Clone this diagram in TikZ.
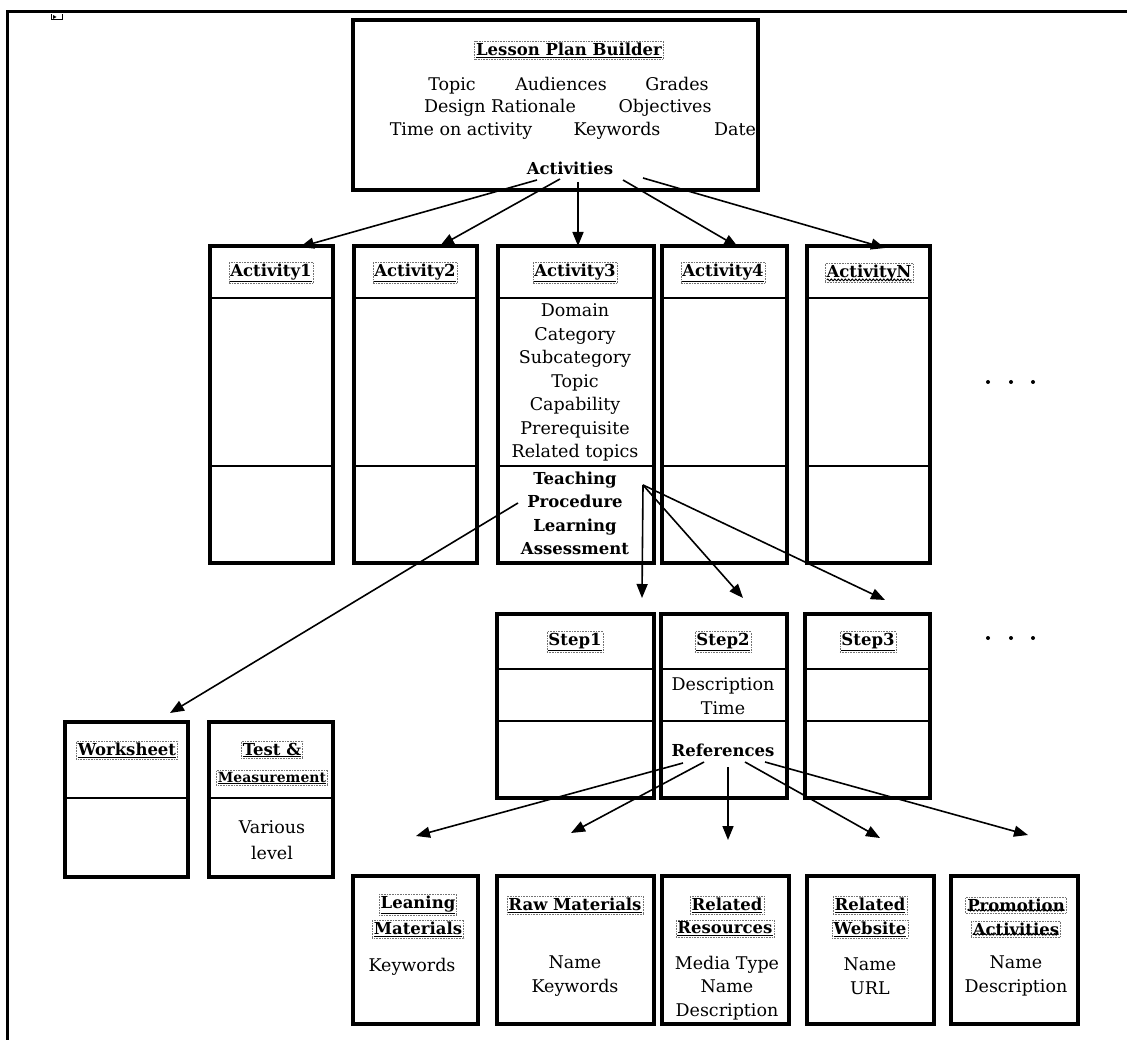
\documentclass[tikz,border=0pt]{standalone}
\usepackage{fontspec}
\setmainfont{DejaVu Serif}
\usetikzlibrary{arrows.meta,decorations.pathmorphing}
\begin{document}
\begin{tikzpicture}[x=1pt,y=-1pt,
  box/.style={draw, line width=3.4pt, inner sep=0pt, outer sep=0pt},
  div/.style={line width=2.2pt},
  arr/.style={-{Triangle[length=14pt,width=11pt]}, line width=1.6pt},
  txt/.style={inner sep=0pt, align=center, font=\fontsize{17.5}{23.5}\selectfont},
  bt/.style={txt, font=\fontsize{16.5}{23.5}\selectfont\bfseries},
  ttl/.style={bt, draw=black!55, densely dotted, line width=0.6pt, inner sep=1.5pt},
  wav/.style={decorate, decoration={snake, amplitude=0.9pt, segment length=3.5pt}, line width=0.9pt},
  bl/.style={txt, anchor=base},
]
\useasboundingbox (0,0) rectangle (1127,1040);
\fill[white] (0,0) rectangle (1127,1040);

% page frame
\draw[line width=3pt] (7,1040) -- (7,12) -- (1127,12);
\draw[line width=1pt] (51,14) -- (51,20) -- (62,20) -- (62,14);
\fill (53,15) -- (56.5,17) -- (53,19) -- cycle;

% ---------- top box ----------
\node[box, minimum width=405pt, minimum height=170pt] (lpb) at (555.5,105) {};
\node[ttl] (lpbt) at (569,50) {\underline{Lesson Plan Builder}};
\node[bl] (t1) at (452,91) {Topic};
\node[bl] (t2) at (561,91) {Audiences};
\node[bl] (t3) at (677,91) {Grades};
\node[bl] (t4) at (500,113) {Design Rationale};
\node[bl] (t5) at (665,113) {Objectives};
\node[bl] (t6) at (461,136) {Time on activity};
\node[bl] (t7) at (617,136) {Keywords};
\node[bl] (t8) at (735,136) {Date};
\node[bt] (acts) at (570,168) {Activities};

% ---------- activity boxes ----------
\node[box, minimum width=123pt, minimum height=317pt] (act1) at (271.5,404.5) {};
\node[box, minimum width=123pt, minimum height=317pt] (act2) at (415.5,404.5) {};
\node[box, minimum width=156pt, minimum height=317pt] (act3) at (576,404.5) {};
\node[box, minimum width=125pt, minimum height=317pt] (act4) at (724.5,404.5) {};
\node[box, minimum width=123pt, minimum height=317pt] (actn) at (868.5,404.5) {};
\foreach \b in {act1,act2,act3,act4,actn}{
  \draw[div] ([yshift=-52pt]\b.north west) -- ([yshift=-52pt]\b.north east);
  \draw[div] ([yshift=-220pt]\b.north west) -- ([yshift=-220pt]\b.north east);
}
\node[ttl] (a1t) at (271,273) {\underline{Activity1}};
\node[ttl] (a2t) at (415,273) {\underline{Activity2}};
\node[ttl] (a3t) at (575,273) {\underline{Activity3}};
\node[ttl] (a4t) at (723,273) {\underline{Activity4}};
\node[ttl] (ant) at (869,273) {ActivityN};
\draw[wav] ([xshift=2pt,yshift=3pt]ant.south west) -- ([xshift=-2pt,yshift=3pt]ant.south east);
\node[txt] (a3a) at (575,382.5) {Domain\\Category\\Subcategory\\Topic\\Capability\\Prerequisite\\Related topics};
\node[bt] (a3b) at (575,513.5) {Teaching\\Procedure\\Learning\\Assessment};
\foreach \xx in {988,1011,1033}{\fill (\xx,382) circle (2pt);}

% arrows from Activities
\coordinate (s1) at (537,180); \coordinate (e1) at (300,247);
\coordinate (s2) at (560,179); \coordinate (e2) at (440,246);
\coordinate (s3) at (578,182); \coordinate (e3) at (578,246);
\coordinate (s4) at (623,180); \coordinate (e4) at (738,247);
\coordinate (s5) at (643,178); \coordinate (e5) at (885,248);
\draw[arr] (s1) -- (e1);
\draw[arr] (s2) -- (e2);
\draw[arr] (s3) -- (e3);
\draw[arr] (s4) -- (e4);
\draw[arr] (s5) -- (e5);

% ---------- steps ----------
\node[box, minimum width=157pt, minimum height=184pt] (st1) at (575.5,706) {};
\node[box, minimum width=126pt, minimum height=184pt] (st2) at (724,706) {};
\node[box, minimum width=125pt, minimum height=184pt] (st3) at (867.5,706) {};
\foreach \b in {st1,st2,st3}{
  \draw[div] ([yshift=-55pt]\b.north west) -- ([yshift=-55pt]\b.north east);
  \draw[div] ([yshift=-107pt]\b.north west) -- ([yshift=-107pt]\b.north east);
}
\node[ttl] (s1t) at (575,642) {\underline{Step1}};
\node[ttl] (s2t) at (723,642) {\underline{Step2}};
\node[ttl] (s3t) at (868,642) {\underline{Step3}};
\node[txt] (s2a) at (723,696) {Description\\Time};
\node[bt] (refs) at (723,750) {References};
\foreach \xx in {988,1011,1033}{\fill (\xx,638) circle (2pt);}

\coordinate (tch) at (643,485);
\coordinate (f1) at (642,598);
\coordinate (f2) at (743,598);
\coordinate (f3) at (885,600);
\draw[arr] (tch) -- (f1);
\draw[arr] (tch) -- (f2);
\draw[arr] (tch) -- (f3);

% ---------- worksheet / test ----------
\node[box, minimum width=123pt, minimum height=155pt] (ws) at (126.5,799.5) {};
\node[box, minimum width=124pt, minimum height=155pt] (tm) at (271,799.5) {};
\foreach \b in {ws,tm}{
  \draw[div] ([yshift=-76pt]\b.north west) -- ([yshift=-76pt]\b.north east);
}
\node[ttl] (wst) at (127,750) {\underline{Worksheet}};
\node[ttl] (tmt1) at (272,750) {\underline{Test \&}};
\node[ttl, font=\fontsize{14}{16}\selectfont\bfseries] (tmt2) at (272,778) {\underline{Measurement}};
\node[txt, font=\fontsize{17.5}{26}\selectfont] (tma) at (272,840) {Various\\level};

\coordinate (prc) at (518,503);
\coordinate (wend) at (170,713);
\draw[arr] (prc) -- (wend);

% ---------- bottom boxes ----------
\node[box, minimum width=125pt, minimum height=148pt] (lm) at (415.5,950) {};
\node[box, minimum width=157pt, minimum height=148pt] (rm) at (575.5,950) {};
\node[box, minimum width=127pt, minimum height=148pt] (rr) at (725.5,950) {};
\node[box, minimum width=127pt, minimum height=148pt] (rw) at (870.5,950) {};
\node[box, minimum width=127pt, minimum height=148pt] (pa) at (1014.5,950) {};

\node[ttl] (lmt1) at (418,905) {\underline{Leaning}};
\node[ttl] (lmt2) at (418,929) {\underline{Materials}};
\node[bl] (lma) at (412,971) {Keywords};

\node[ttl] (rmt) at (575,905) {\underline{Raw Materials}};
\node[txt] (rma) at (575,976) {Name\\Keywords};

\node[ttl] (rrt1) at (727,905) {\underline{Related}};
\node[ttl] (rrt2) at (725,929) {\underline{Resources}};
\node[txt] (rra) at (727,988) {Media Type\\Name\\Description};

\node[ttl] (rwt1) at (870,905) {\underline{Related}};
\node[ttl] (rwt2) at (870,929) {\underline{Website}};
\node[txt] (rwa) at (870,976) {Name\\URL};

\node[ttl] (pat1) at (1016,905) {Promotion};
\node[ttl] (pat2) at (1016,929) {Activities};
\draw[wav] ([xshift=2pt,yshift=3pt]pat1.south west) -- ([xshift=-2pt,yshift=3pt]pat1.south east);
\draw[wav] ([xshift=2pt,yshift=3pt]pat2.south west) -- ([xshift=-2pt,yshift=3pt]pat2.south east);
\node[txt] (paa) at (1016,976) {Name\\Description};

\coordinate (r1) at (683,763); \coordinate (g1) at (416,836);
\coordinate (r2) at (704,762); \coordinate (g2) at (571,833);
\coordinate (r3) at (728,767); \coordinate (g3) at (728,840);
\coordinate (r4) at (745,762); \coordinate (g4) at (880,838);
\coordinate (r5) at (765,762); \coordinate (g5) at (1028,835);
\draw[arr] (r1) -- (g1);
\draw[arr] (r2) -- (g2);
\draw[arr] (r3) -- (g3);
\draw[arr] (r4) -- (g4);
\draw[arr] (r5) -- (g5);
\end{tikzpicture}
\end{document}
